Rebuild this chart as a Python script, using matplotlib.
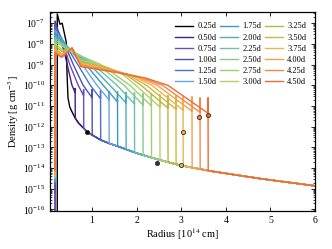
import numpy as np
import matplotlib
matplotlib.use('Agg')
import matplotlib.pyplot as plt
from matplotlib.ticker import FixedLocator, NullFormatter, LogFormatterSciNotation

# epochs of the density snapshots (days)
epochs = [0.25, 0.50, 0.75, 1.00, 1.25, 1.50, 1.75, 2.00, 2.25,
          2.50, 2.75, 3.00, 3.25, 3.50, 3.75, 4.00, 4.25, 4.50]

# inner boundary: radius [1e14 cm] and log10 density at the foot of the inner edge
r_inner = [0.22] + [0.17] * 17
log_inner_min = [-17.0, -17.0, -17.0, -15.2, -14.8, -14.65, -14.6, -14.55, -14.5,
                 -14.45, -14.4, -14.35, -14.3, -14.25, -14.2, -14.17, -14.14, -14.1]

# ejecta profile from the inner peak out to the base of the shell
upper_r = [
    [0.22, 0.28, 0.33, 0.42, 0.44, 0.46],
    [0.17, 0.30, 0.40, 0.48, 0.55, 0.62],
    [0.17, 0.35, 0.50, 0.69, 0.81],
    [0.17, 0.38, 0.58, 0.80, 1.00],
    [0.17, 0.42, 0.68, 0.96, 1.19],
    [0.17, 0.45, 0.78, 1.11, 1.38],
    [0.17, 0.48, 0.86, 1.25, 1.57],
    [0.17, 0.50, 0.95, 1.40, 1.76],
    [0.17, 0.52, 1.03, 1.56, 1.95],
    [0.17, 0.55, 1.12, 1.72, 2.14],
    [0.17, 0.55, 1.20, 1.85, 2.33],
    [0.17, 0.35, 0.55, 0.75, 1.30, 1.70, 1.98, 2.52],
    [0.17, 0.35, 0.55, 0.75, 1.35, 1.78, 2.10, 2.70],
    [0.17, 0.33, 0.55, 0.75, 1.40, 1.86, 2.22, 2.88],
    [0.17, 0.33, 0.55, 0.75, 1.45, 1.94, 2.34, 3.04],
    [0.17, 0.32, 0.55, 0.75, 1.50, 2.02, 2.46, 3.24],
    [0.17, 0.32, 0.55, 0.75, 1.55, 2.10, 2.58, 3.42],
    [0.17, 0.32, 0.55, 0.75, 1.60, 2.20, 2.70, 3.60],
]
upper_log = [
    [-6.55, -7.05, -7.0, -7.9, -9.5, -10.6],
    [-6.9, -7.8, -8.6, -9.35, -10.0, -10.35],
    [-7.0, -8.0, -9.0, -10.0, -10.5],
    [-7.1, -8.0, -9.0, -10.0, -10.6],
    [-7.2, -8.1, -9.0, -10.0, -10.65],
    [-7.35, -8.15, -9.0, -10.0, -10.7],
    [-7.5, -8.2, -9.0, -10.0, -10.8],
    [-7.6, -8.25, -9.0, -10.0, -10.85],
    [-7.7, -8.3, -9.0, -10.0, -10.9],
    [-7.8, -8.35, -9.0, -10.0, -10.95],
    [-7.9, -8.4, -9.0, -10.0, -11.0],
    [-8.0, -8.3, -8.3, -8.8, -9.1, -9.5, -10.0, -11.05],
    [-8.1, -8.4, -8.25, -8.85, -9.15, -9.52, -10.0, -11.1],
    [-8.2, -8.5, -8.2, -8.9, -9.2, -9.55, -10.0, -11.15],
    [-8.3, -8.55, -8.2, -8.95, -9.25, -9.57, -10.0, -11.2],
    [-8.35, -8.6, -8.2, -9.0, -9.3, -9.6, -10.0, -11.25],
    [-8.4, -8.62, -8.2, -9.05, -9.35, -9.62, -10.0, -11.3],
    [-8.45, -8.65, -8.2, -9.1, -9.4, -9.65, -10.0, -11.35],
]

# dense shell: top of the spike and the wind density just outside it
log_shell_top = [None, -10.15, -10.2, -10.2, -10.25, -10.3, -10.3, -10.35, -10.35,
                 -10.4, -10.4, -10.45, -10.5, -10.5, -10.55, -10.55, -10.6, -10.6]
log_outside = [None, -11.58, -12.07, -12.4, -12.64, -12.8, -12.95, -13.1, -13.25,
               -13.38, -13.5, -13.62, -13.72, -13.82, -13.9, -13.99, -14.06, -14.13]

# surrounding wind, common to all epochs
env_r = [0.50, 0.55, 0.62, 0.69, 0.80, 0.89, 1.0, 1.2, 1.4, 1.63, 2.0, 2.5, 3.0, 3.7, 4.8, 6.0]
env_log = [-11.05, -11.28, -11.58, -11.81, -12.05, -12.25, -12.4, -12.65, -12.82, -12.99,
           -13.28, -13.6, -13.88, -14.16, -14.52, -14.86]

# photosphere markers
mark_idx = [0, 1, 11, 14, 16, 17]
mark_r = [0.89, 2.46, 2.99, 3.04, 3.40, 3.60]
mark_log = [-12.25, -13.75, -13.85, -12.25, -11.52, -11.43]

y_decades = [-16, -15, -14, -13, -12, -11, -10, -9, -8, -7]

colors = ['#000000', '#4b1a8c', '#6a4fb0', '#4a50b8', '#4a72c8', '#6aa6dc',
          '#3d97c4', '#4aafb6', '#68c2a6', '#86cc8a', '#9ed070', '#b6d068',
          '#b8b83c', '#d4b444', '#ecb452', '#f4a04e', '#f4884c', '#ee6a34']

plt.rcParams['font.family'] = ['Liberation Serif', 'DejaVu Serif']
plt.rcParams['mathtext.fontset'] = 'stix'

fig = plt.figure(figsize=(3.32, 2.49), dpi=100)
ax = fig.add_axes([0.151, 0.153, 0.798, 0.799])

for k, t in enumerate(epochs):
    r = [r_inner[k]] + upper_r[k]
    lg = [log_inner_min[k]] + upper_log[k]
    rs = upper_r[k][-1]
    if log_shell_top[k] is not None:
        r += [rs, rs + 0.004]
        lg += [log_shell_top[k], log_outside[k]]
    for re, le in zip(env_r, env_log):
        if re > r[-1] + 0.01:
            r.append(re)
            lg.append(le)
    ax.plot(r, 10.0 ** np.array(lg), color=colors[k], lw=1.0, label=f'{t:.2f}d')

for i, rm, lm in zip(mark_idx, mark_r, mark_log):
    ax.plot([rm], [10.0 ** lm], 'o', ms=3, mfc=colors[i], mec='#3a2a10', mew=0.6)

ax.set_yscale('log')
ax.set_xlim(0.06, 6)
ax.set_ylim(8.5e-17, 3.5e-7)
ax.xaxis.set_major_locator(FixedLocator([1, 2, 3, 4, 5, 6]))
ax.yaxis.set_major_locator(FixedLocator([10.0 ** d for d in y_decades]))
ax.yaxis.set_major_formatter(LogFormatterSciNotation())
minor = [m * 10.0 ** d for d in [-17] + y_decades for m in range(2, 10)]
minor = [v for v in minor if 8.5e-17 < v < 3.5e-7]
ax.yaxis.set_minor_locator(FixedLocator(minor))
ax.yaxis.set_minor_formatter(NullFormatter())
ax.tick_params(which='both', direction='in', top=True, right=True, labelsize=7)
ax.tick_params(which='major', length=3, width=0.6)
ax.tick_params(which='minor', length=1.5, width=0.5)
for s in ax.spines.values():
    s.set_linewidth(0.9)

ax.set_xlabel('Radius [10$^{14}$ cm]', fontsize=7.5, labelpad=1)
ax.set_ylabel('Density [g cm$^{-3}$]', fontsize=7.5, labelpad=1)

ax.legend(ncol=3, loc='upper right', frameon=False, fontsize=6,
          handlelength=2.2, handletextpad=0.5, columnspacing=0.4,
          labelspacing=0.38, borderaxespad=0.5, bbox_to_anchor=(0.995, 0.985))

fig.savefig('out.png', dpi=100)
